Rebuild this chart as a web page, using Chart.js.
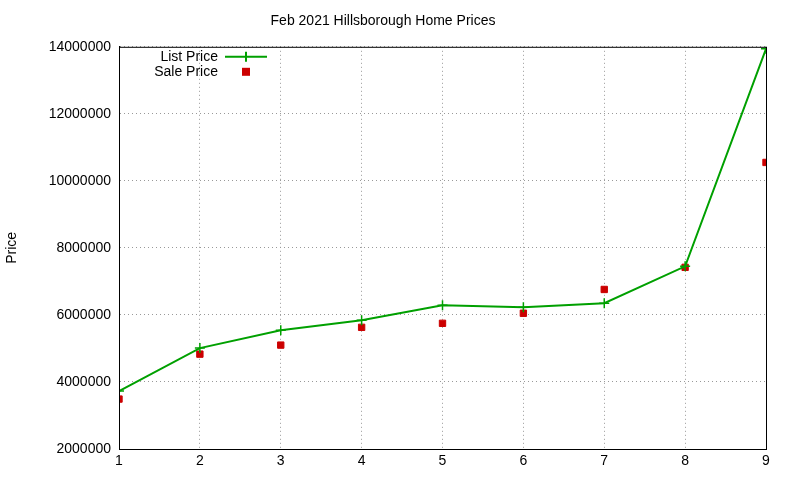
<!DOCTYPE html>
<html><head><meta charset="utf-8">
<script src="https://cdn.jsdelivr.net/npm/chart.js@4"></script>
<style>html,body{margin:0;padding:0;background:#fff}#w{width:800px;height:480px}</style>
</head><body><div id="w"><canvas id="c" width="800" height="480"></canvas></div>
<script>
const categories=[1,2,3,4,5,6,7,8,9];
const listPrice=[3730000,5010000,5540000,5840000,6290000,6230000,6350000,7450000,13940000];
const salePrice=[3490000,4830000,5100000,5630000,5750000,6050000,6760000,7420000,10550000];
const yTicks=[2000000,4000000,6000000,8000000,10000000,12000000,14000000];
const font={family:'Liberation Sans, Arial, sans-serif',size:14};
const legendPlugin={id:'lg',afterDraw(ch){const c=ch.ctx,a=ch.chartArea;c.save();c.font='14px Liberation Sans, Arial, sans-serif';c.fillStyle='#000';c.textAlign='right';c.textBaseline='middle';
c.fillText('List Price',a.left+99,a.top+10);c.fillText('Sale Price',a.left+99,a.top+25);
c.strokeStyle='#00a000';c.lineWidth=2;c.beginPath();c.moveTo(a.left+106,a.top+10);c.lineTo(a.left+148,a.top+10);c.moveTo(a.left+127,a.top+5);c.lineTo(a.left+127,a.top+15);c.stroke();
c.fillStyle='#cc0000';c.fillRect(a.left+123,a.top+21,8,8);c.restore();}};
new Chart(document.getElementById('c'),{type:'scatter',
data:{datasets:[
{label:'List Price',data:categories.map((x,i)=>({x,y:listPrice[i]})),showLine:true,borderColor:'#00a000',backgroundColor:'#00a000',borderWidth:2,pointStyle:'cross',pointRadius:5,pointBorderWidth:1.5},
{label:'Sale Price',data:categories.map((x,i)=>({x,y:salePrice[i]})),showLine:false,borderColor:'#cc0000',backgroundColor:'#cc0000',pointStyle:'rect',pointRadius:4.5}
]},
options:{responsive:false,animation:false,
layout:{padding:{left:0,right:34,top:0,bottom:0}},
plugins:{legend:{display:false},tooltip:{enabled:false},
title:{display:true,text:'Feb 2021 Hillsborough Home Prices',color:'#000',font:{...font,weight:'normal'},padding:{top:13,bottom:17}}},
scales:{
x:{type:'linear',min:1,max:9,afterFit(ax){ax.height=31;},grid:{color:'#999',drawTicks:false},border:{color:'#000',dash:[1,3]},ticks:{stepSize:1,color:'#000',font,padding:4}},
y:{min:2000000,max:14000000,afterFit(ax){ax.width=119;},afterBuildTicks(ax){ax.ticks=yTicks.map(v=>({value:v}));},ticks:{color:'#000',font,padding:8,callback:v=>String(v)},grid:{color:'#999',drawTicks:false},border:{color:'#000',dash:[1,3]},
title:{display:true,text:'Price',color:'#000',font}}
}},
plugins:[legendPlugin,{id:'box',afterDraw(ch){const c=ch.ctx,a=ch.chartArea;c.save();c.strokeStyle='#000';c.lineWidth=1;c.strokeRect(a.left+.5,a.top+.5,a.right-a.left,a.bottom-a.top);c.restore();}}]
});
</script></body></html>
